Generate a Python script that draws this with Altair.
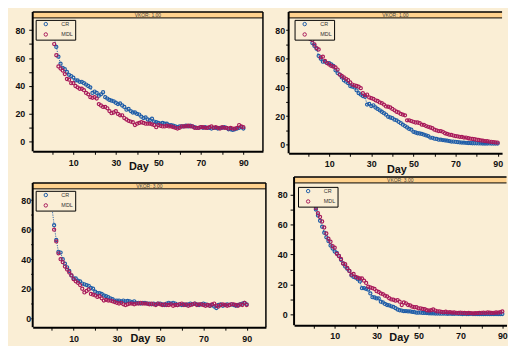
import altair as alt
import pandas as pd

days = list(range(91))

# VKOR 1.00 (top-left)
tl_cr = [80, 75, 68, 61, 56, 53, 52, 50, 48, 47,
         46, 44, 44, 43, 43, 42, 41, 40, 39, 35,
         36, 35, 33, 34, 35.5, 32, 31, 30, 29.5, 29,
         28, 27, 27.5, 26, 25, 23, 23.5, 22, 21, 21,
         20, 19.5, 18, 17, 17.5, 16, 15.5, 16.5, 14.5, 14,
         13.5, 13, 13.5, 13, 13, 12, 12, 11.5, 11, 10.5,
         11, 11, 11, 11.5, 11, 11.5, 11, 10.5, 10, 10,
         10.5, 10, 10.5, 10, 10, 9.5, 10, 10, 9.5, 10,
         10, 10.5, 10, 9, 9, 8.5, 9, 9.5, 10, 10.5, 9.5]
tl_mdl = [78, 70, 62, 54, 52.5, 51, 48.5, 45, 44.5, 42,
          42, 40, 39, 38, 38, 37, 35, 34, 32, 31.5,
          32, 31, 27, 26, 25, 25, 24, 22, 20.5, 21,
          22, 20, 19, 19, 17, 16, 15, 14.5, 14, 12,
          13, 13.5, 14, 13.5, 13, 13, 13, 12.5, 12, 10.5,
          12, 11.5, 11, 11, 11.5, 11, 11, 10.5, 10, 9.5,
          10, 11, 11, 11, 11.5, 11, 11, 10, 10, 10,
          10.5, 10.5, 10, 10, 10.5, 11, 10, 10.5, 10, 9.5,
          10.5, 10, 10, 9.5, 10, 9.5, 9.5, 10, 12, 11, 10.5]

# VKOR 1.00 (top-right)
tr_cr = [77, 74, 71, 69, 67, 62, 60, 58, 58, 57,
         57, 56, 55, 52, 50, 49, 47, 45, 44, 43,
         41, 40.5, 40, 38, 36, 35, 34, 33.5, 28, 28.5,
         27, 27.5, 26, 25, 24, 23, 22, 21, 19.5, 19,
         18.5, 17.5, 17, 16, 15, 14, 13, 12, 11, 10.5,
         9, 8.5, 8, 7.8, 7.5, 7, 6.5, 6, 5, 4.8,
         4.2, 4, 3.5, 3.5, 3.2, 3, 2.8, 2.5, 2.2, 2.2,
         2, 1.8, 1.6, 1.5, 1.4, 1.3, 1.2, 1.1, 1, 1,
         1, 0.9, 0.9, 0.8, 0.8, 0.8, 0.9, 0.8, 0.8, 0.8, 0.8]
tr_mdl = [77, 74, 73, 70, 67.5, 66.5, 61, 61.5, 58.5, 57,
          56, 55, 54.5, 54, 52.5, 49, 48, 47, 46, 45,
          43.5, 42, 41.5, 41, 40.5, 39.5, 36, 34.5, 35, 33,
          32.5, 32, 31, 30.5, 29.5, 29, 28, 26.7, 26.5, 26,
          25, 24, 23, 22.5, 21.5, 21, 20.5, 17, 17, 16.5,
          16, 15.5, 15.5, 15, 14, 13.8, 13, 12.5, 12, 11.5,
          10.5, 10, 9.5, 9.5, 9, 8, 7.5, 7, 6.8, 6.4,
          6, 5.8, 5.5, 5.4, 5, 5, 4.5, 4.2, 4, 3.8,
          3.5, 3.3, 3, 2.8, 2.5, 2.4, 2.2, 2, 1.8, 1.6, 1.5]

# VKOR 3.00 (bottom-left)
bl_cr = [75, 63, 53, 45, 44.5, 40, 37, 34.5, 32, 29,
         27, 27, 25.5, 25, 23.5, 23, 22.5, 22, 20.5, 20,
         18, 17, 17, 16.5, 15.5, 15, 14.3, 13.5, 13, 12,
         12, 12, 11.5, 12, 11.5, 11.8, 11.5, 11, 11.5, 10.5,
         10.5, 10, 10.5, 10.5, 10, 10, 9.5, 10, 9.5, 10,
         10, 9.5, 9, 10, 10.5, 10, 10.5, 10, 9, 9.5,
         9, 9.5, 9, 9.5, 10, 9.5, 10, 9.5, 9, 9.5,
         10, 9.5, 9, 8.5, 9, 8, 7, 9, 9.5, 8.5,
         9, 9.5, 9, 9.5, 9, 8.5, 9, 9.5, 10, 10.5, 9.5]
bl_mdl = [75, 60, 52, 44, 40, 38, 35, 33, 31, 29,
          26.5, 25, 24, 22.5, 20, 17.5, 18.5, 19.5, 16.5, 16,
          15.5, 14.5, 15, 13.5, 12, 12.5, 12, 12, 11.5, 11,
          10.5, 10, 10.5, 9.5, 9, 9.5, 10, 10, 9.5, 10,
          10, 10.5, 10, 10, 10, 9.5, 10, 9.5, 9, 10,
          9.5, 9, 9.5, 9, 9, 9.5, 8.5, 9, 9, 9.5,
          10, 9, 9.5, 8.5, 9, 9.5, 10, 9, 9.5, 9.5,
          9, 8.5, 9, 8.5, 9.5, 10, 8.5, 8, 9, 9.5,
          9, 8.5, 9, 9.5, 9.5, 9, 8.5, 9.5, 9, 10.5, 9]

# VKOR 3.00 (bottom-right)
br_cr = [76, 70, 66, 62.5, 58.5, 54.5, 51.5, 49, 46, 44,
         42, 41, 39, 36.5, 34, 32, 30.5, 29, 26, 25,
         24.5, 23.5, 22, 17.5, 17.5, 17, 16.5, 14, 11.5, 11.3,
         10.7, 10.7, 8.5, 8, 7, 6.3, 6, 5.4, 5, 4.2,
         3.3, 2.8, 2.6, 2.2, 2.2, 2, 2, 1.7, 1.5, 1.2,
         1.2, 1.3, 1, 1, 0.9, 0.8, 0.7, 0.7, 0.6, 0.6,
         0.6, 0.5, 0.6, 0.5, 0.4, 0.5, 0.4, 0.4, 0.5, 0.4,
         0.4, 0.3, 0.4, 0.3, 0.3, 0.4, 0.3, 0.3, 0.3, 0.2,
         0.3, 0.2, 0.3, 0.3, 0.2, 0.3, 0.2, 0.3, 0.2, 0.2, 0.3]
br_mdl = [77, 71, 67.5, 65, 62, 58, 54, 50.5, 48.5, 45.5,
          44.5, 40.5, 39, 37, 34, 33.5, 31, 29, 26.5, 27,
          25, 24.5, 24, 24, 22.5, 21, 18.5, 18, 17.5, 17,
          15.5, 15, 14, 13.5, 12.5, 12, 10.8, 10, 9.8, 9.2,
          9.6, 8.5, 6.3, 8, 7.4, 6.3, 6, 5.2, 4.8, 4.8,
          4.1, 4.1, 3.7, 3.5, 2.8, 2.6, 2.8, 3.3, 2.6, 2,
          2, 1.7, 1.5, 1.8, 1.4, 1.5, 1.2, 1.3, 1.1, 1,
          1.2, 1.1, 1, 0.8, 1, 0.9, 0.7, 0.8, 0.9, 1,
          1.1, 1.2, 1.1, 1.3, 1.2, 1, 1.1, 1.3, 1.2, 1.5, 2]

series_names = ["CR", "MDL"]
x_ticks = list(range(0, 91, 10))
y_ticks = list(range(0, 81, 10))

BG = "#FAEED5"
STRIP = "#FFD28E"
BLUE = "#1F5DA8"
RED = "#A8195A"
FONT = "Liberation Sans"


def panel(cr, mdl, label, width, height, xdom, ydom, ytick, ypad, xpad,
          title_x, title_y, leg_x, leg_y, off=0, right_edge=True):
    df = pd.DataFrame({
        "Day": days + days,
        "Value": cr + mdl,
        "Series": [series_names[0]] * len(days) + [series_names[1]] * len(days),
    })
    df_cr = df[df["Series"] == "CR"]
    x = alt.X("Day:Q",
              scale=alt.Scale(domain=xdom, nice=False, zero=False),
              axis=alt.Axis(values=x_ticks,
                            labelExpr="datum.value % 20 == 10 ? datum.label : ''",
                            title="Day", titleX=title_x, titleY=title_y,
                            titleBaseline="top", titleAlign="center",
                            tickSize=3, labelPadding=xpad,
                            labelOverlap=False, labelFlush=False, labelBound=False))
    y = alt.Y("Value:Q",
              scale=alt.Scale(domain=ydom, nice=False, zero=False),
              axis=alt.Axis(values=y_ticks, domain=False,
                            labelExpr="datum.value % 20 == 0 ? datum.label : ''",
                            title=None, tickSize=ytick, labelPadding=ypad,
                            labelOverlap=False, labelFlush=False, labelBound=False))
    line = alt.Chart(df_cr).mark_line(color=BLUE, strokeWidth=0.9,
                                      strokeDash=[1.2, 1.2]).encode(x=x, y=y)
    pts = alt.Chart(df).mark_point(filled=False, size=10, strokeWidth=1.2,
                                   opacity=1).encode(
        x=x, y=y,
        color=alt.Color("Series:N",
                        scale=alt.Scale(domain=series_names, range=[BLUE, RED]),
                        legend=alt.Legend(orient="none", legendX=leg_x,
                                          legendY=leg_y + off, title=None)))
    lab = pd.DataFrame({"label": [label]})
    strip = alt.Chart(lab).mark_rect(fill=STRIP).encode(
        x=alt.value(0), x2=alt.value(width),
        y=alt.value(off), y2=alt.value(off + 6))
    strip_bottom = alt.Chart(lab).mark_rule(color="black", strokeWidth=1).encode(
        x=alt.value(0), x2=alt.value(width), y=alt.value(off + 6))
    frame_top = alt.Chart(lab).mark_rule(color="black", strokeWidth=1.5).encode(
        x=alt.value(0), x2=alt.value(width), y=alt.value(off))
    frame_left = alt.Chart(lab).mark_rule(color="black", strokeWidth=2).encode(
        x=alt.value(0), y=alt.value(off), y2=alt.value(height))
    strip_txt = alt.Chart(lab).mark_text(fontSize=5, font=FONT, color="#444",
                                         baseline="middle").encode(
        x=alt.value(width / 2), y=alt.value(off + 3.3), text="label:N")
    layers = [line, pts, strip, strip_bottom, frame_top, frame_left]
    if right_edge:
        frame_right = alt.Chart(lab).mark_rule(color="black",
                                               strokeWidth=1.5).encode(
            x=alt.value(width), y=alt.value(off), y2=alt.value(height))
        layers.append(frame_right)
    layers.append(strip_txt)
    return alt.layer(*layers).properties(
        width=width, height=height,
        view=alt.ViewBackground(stroke="transparent"))


tl = panel(tl_cr, tl_mdl, "VKOR: 1.00", 233, 141, [-9.1, 99.2], [-6.8, 93.0],
           4, 4, 4, 107, 9, 3, 8)
tr = panel(tr_cr, tr_mdl, "VKOR: 1.00", 216, 143, [-9.26, 92.1], [-6.0, 92.7],
           3, 1, 3.5, 109, 10, 6, 8, right_edge=False)
bl = panel(bl_cr, bl_mdl, "VKOR: 3.00", 236, 152, [-8.9, 98.9], [-6.0, 95.6],
           2, 0, 4, 108.5, 5, 3, 8, off=6)
br = panel(br_cr, br_mdl, "VKOR: 3.00", 215, 150, [-9.4, 92.0], [-7.2, 91.7],
           4, 3, 3, 106, 6, 4, 10, right_edge=False)

top = alt.hconcat(tl, tr, spacing=9).resolve_scale(color="independent")
bottom = alt.hconcat(bl, br, spacing=8.5).resolve_scale(color="independent")

chart = alt.vconcat(top, bottom, spacing=0).resolve_scale(
    color="independent"
).properties(
    padding={"left": 6, "top": 0, "right": 0, "bottom": 0}
).configure(
    background=BG
).configure_view(
    stroke="transparent"
).configure_axis(
    domainColor="black", domainWidth=2, tickColor="black", tickWidth=1,
    grid=False, labelFont=FONT, labelFontSize=9, labelFontWeight="bold",
    labelColor="#111", titleFont=FONT, titleFontSize=11,
    titleFontWeight="bold", titleColor="#111"
).configure_legend(
    strokeColor="black", fillColor=BG, padding=1.5, labelFont=FONT,
    labelFontSize=5.5, labelColor="#333", symbolSize=12,
    symbolStrokeWidth=1, symbolOffset=6, labelOffset=13, rowPadding=2.5,
    symbolType="circle"
).configure_title(font=FONT)

chart.save("out.html", embed_options={"renderer": "svg", "actions": False})
